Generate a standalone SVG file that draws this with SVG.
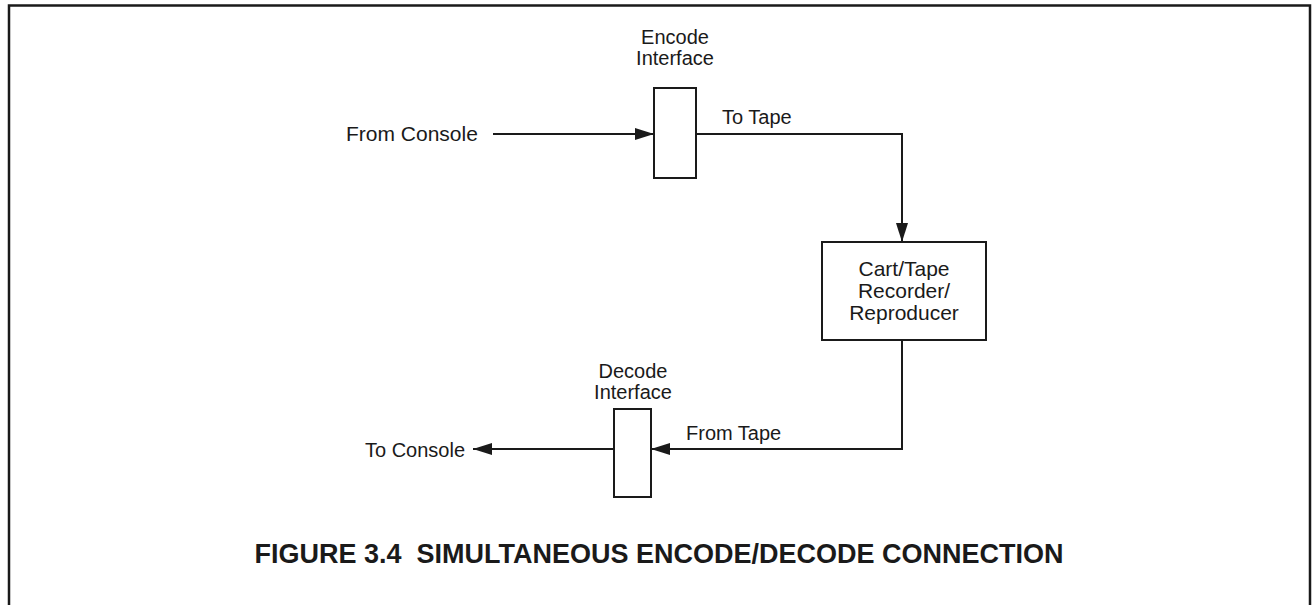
<svg xmlns="http://www.w3.org/2000/svg" width="1312" height="605" viewBox="0 0 1312 605">
<defs>
<style>
.t{font-family:"Liberation Sans",Arial,sans-serif;font-size:20px;fill:#1a1a1a}
.c{text-anchor:middle}
.box{fill:#fff;stroke:#1a1a1a;stroke-width:2}
.ln{fill:none;stroke:#1a1a1a;stroke-width:2}
.title{font-family:"Liberation Sans",Arial,sans-serif;font-size:27px;font-weight:bold;fill:#1a1a1a;text-anchor:middle}
</style>
<marker id="ah" markerUnits="userSpaceOnUse" markerWidth="19" markerHeight="12" refX="19" refY="6" orient="auto">
<path d="M0,0 L19,6 L0,12 z" fill="#1a1a1a"/>
</marker>
</defs>
<rect width="1312" height="605" fill="#fff"/>
<path d="M9,605 V5.5 H1310 V605" fill="none" stroke="#1a1a1a" stroke-width="2.5"/>
<g id="connectors">
<line class="ln" x1="493" y1="134" x2="654" y2="134" marker-end="url(#ah)"/>
<polyline class="ln" points="696,134 902,134 902,242" marker-end="url(#ah)"/>
<polyline class="ln" points="902,340 902,449 651,449" marker-end="url(#ah)"/>
<line class="ln" x1="614" y1="449" x2="473" y2="449" marker-end="url(#ah)"/>
<text class="t" x="722" y="124">To Tape</text>
<text class="t" x="686" y="440">From Tape</text>
</g>
<g id="from-console">
<text class="t" x="346" y="141" style="font-size:21px">From Console</text>
</g>
<g id="encode-interface">
<text class="t c" x="675" y="44">Encode</text>
<text class="t c" x="675" y="65">Interface</text>
<rect class="box" x="654" y="88" width="42" height="90"/>
</g>
<g id="cart-tape">
<rect class="box" x="822" y="242" width="164" height="98"/>
<text class="t c" x="904" y="276" style="font-size:21px">Cart/Tape</text>
<text class="t c" x="904" y="298" style="font-size:21px">Recorder/</text>
<text class="t c" x="904" y="320" style="font-size:21px">Reproducer</text>
</g>
<g id="decode-interface">
<text class="t c" x="633" y="378">Decode</text>
<text class="t c" x="633" y="399">Interface</text>
<rect class="box" x="614" y="409" width="37" height="88"/>
</g>
<g id="to-console">
<text class="t" x="365" y="457">To Console</text>
</g>
<g id="caption">
<text class="title" x="659" y="563" xml:space="preserve">FIGURE 3.4  SIMULTANEOUS ENCODE/DECODE CONNECTION</text>
</g>
</svg>
